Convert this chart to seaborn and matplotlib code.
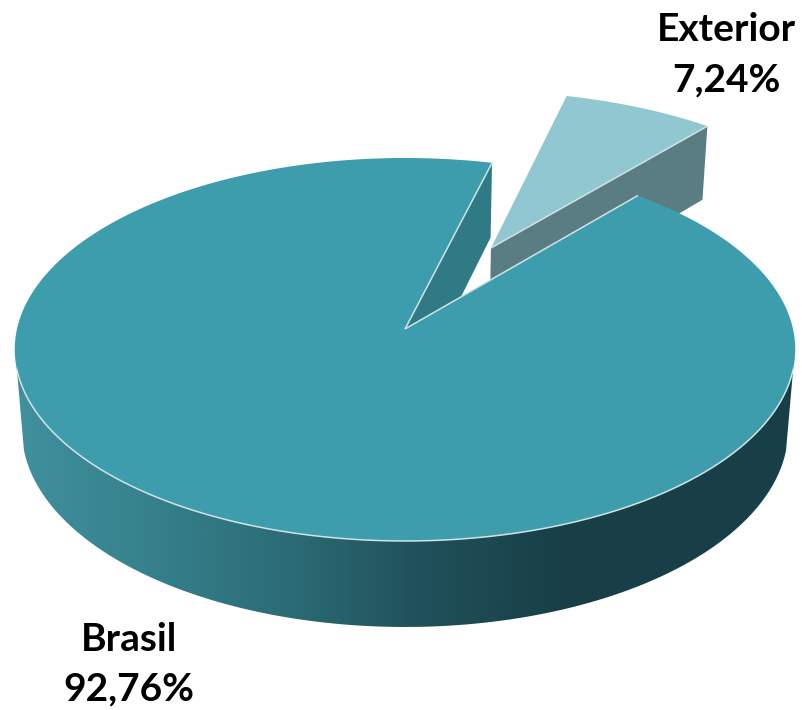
import numpy as np
import matplotlib
matplotlib.use("Agg")
import matplotlib.pyplot as plt
from matplotlib.patches import Polygon
import seaborn as sns

categories = ["Brasil", "Exterior"]
shares = [92.76, 7.24]

# first edge of the small slice, and how far it is pulled out of the pie
start_angle = 49.6
explode = 0.505

top_color = "#3d9dac"
slice_color = "#90c7d1"
slice_wall_color = "#5a7c83"
inner_wall_color = "#2f7a84"
edge_color = "#cfe3e6"
wall_stops = ["#40909d", "#35808b", "#2b6b75", "#205059", "#183f47"]

# perspective of the two planes of the disc, in pixels
top_plane = dict(x0=405, y0=329, ax=388, ay=189.3, k=0.107)
bottom_plane = dict(x0=405, y0=409, ax=381, ay=195, k=0.1054)


def project(x, y, plane):
    x = np.asarray(x, dtype=float)
    y = np.asarray(y, dtype=float)
    d = 1 + plane["k"] * y
    return plane["x0"] + plane["ax"] * x / d, plane["y0"] - plane["ay"] * y / d


def rim(a0, a1, n=200):
    t = np.radians(np.linspace(a0, a1, n))
    return np.cos(t), np.sin(t)


sns.set_theme(style="white")
plt.rcParams["font.family"] = ["Lato", "DejaVu Sans"]

fig = plt.figure(figsize=(8.02, 7.10), dpi=100)
ax = fig.add_axes([0, 0, 1, 1])

span = shares[1] / sum(shares) * 360
end_angle = start_angle + span
mid = np.radians(start_angle + span / 2)
ox, oy = explode * np.cos(mid), explode * np.sin(mid)

# outer wall, near side only, shaded left to right through a clipped gradient
palette = np.array(sns.blend_palette(wall_stops, n_colors=256))
columns = np.arange(802)
shade = np.clip((columns - 20) / 540, 0, 1)
gradient = palette[(shade * 255).astype(int)][np.newaxis, :, :3]
img = ax.imshow(gradient, extent=(0, 802, 710, 0), aspect="auto", interpolation="bilinear", zorder=1)
cx, cy = rim(192, 348, 300)
tx, ty = project(cx, cy, top_plane)
bx, by = project(cx, cy, bottom_plane)
wall = Polygon(np.c_[np.r_[tx, bx[::-1]], np.r_[ty, by[::-1]]], closed=True, transform=ax.transData)
img.set_clip_path(wall)

ax.set_xlim(0, 802)
ax.set_ylim(710, 0)
ax.axis("off")

# exploded slice: wall first, then its top
xa, ya = rim(start_angle, start_angle, 1)
wx = np.array([ox, ox + xa[0]])
wy = np.array([oy, oy + ya[0]])
tx, ty = project(wx, wy, top_plane)
bx, by = project(wx, wy, bottom_plane)
ax.fill(np.r_[tx, bx[::-1]], np.r_[ty, by[::-1]], color=slice_wall_color, lw=0, zorder=2)

sx, sy = rim(start_angle, end_angle, 40)
px, py = project(np.r_[ox, ox + sx], np.r_[oy, oy + sy], top_plane)
ax.fill(px, py, color=slice_color, lw=0, zorder=2)
ax.plot(tx, ty, color=edge_color, lw=1.1, solid_capstyle="round", zorder=2)

# inner wall of the big slice, seen through the gap
xa, ya = rim(end_angle, end_angle, 1)
wx = np.array([0, xa[0]])
wy = np.array([0, ya[0]])
tx, ty = project(wx, wy, top_plane)
bx, by = project(wx, wy, bottom_plane)
ax.fill(np.r_[tx, bx[::-1]], np.r_[ty, by[::-1]], color=inner_wall_color, lw=0, zorder=2)

# top of the big slice
rx, ry = rim(end_angle, start_angle + 360, 500)
px, py = project(np.r_[0, rx], np.r_[0, ry], top_plane)
ax.fill(px, py, color=top_color, lw=0, zorder=3)

# thin light lines on the cut and on the near rim
ex, ey = project(np.r_[rx[0], 0, rx[-1]], np.r_[ry[0], 0, ry[-1]], top_plane)
ax.plot(ex, ey, color=edge_color, lw=1.1, solid_joinstyle="miter", zorder=4)
nx, ny = rim(192, 348, 300)
ex, ey = project(nx, ny, top_plane)
ax.plot(ex, ey, color=edge_color, lw=1.1, zorder=4)

labels = [f"{c}\n{s:.2f}%".replace(".", ",") for c, s in zip(categories, shares)]
ax.text(129, 664, labels[0], ha="center", va="center", fontsize=28, fontweight="bold",
        color="black", linespacing=1.5, zorder=5)
ax.text(726, 55, labels[1], ha="center", va="center", fontsize=28, fontweight="bold",
        color="black", linespacing=1.55, zorder=5)

fig.savefig("out.png", dpi=100)
plt.close(fig)
